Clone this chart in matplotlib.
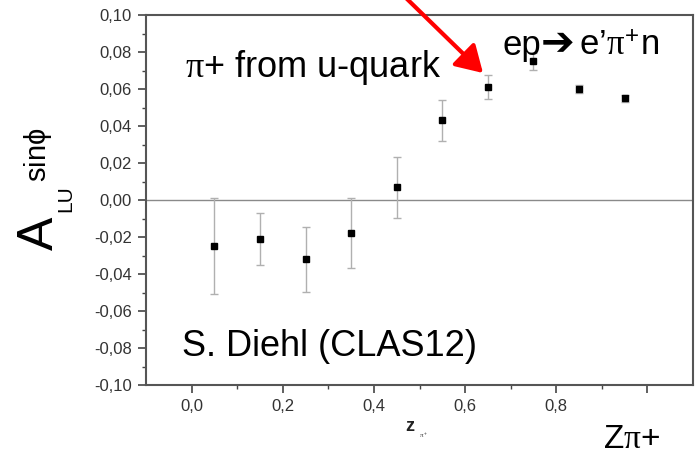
import matplotlib
matplotlib.use("Agg")
import matplotlib.pyplot as plt
from matplotlib.patches import FancyArrowPatch

plt.rcParams['font.family'] = ['Liberation Sans', 'DejaVu Sans']
plt.rcParams['mathtext.fontset'] = 'custom'
plt.rcParams['mathtext.rm'] = 'Liberation Sans'
plt.rcParams['mathtext.it'] = 'Liberation Serif'
plt.rcParams['mathtext.bf'] = 'Liberation Sans:bold'

# data
z_pi = [0.05, 0.15, 0.25, 0.35, 0.45, 0.55, 0.65, 0.75, 0.85, 0.95]
a_lu = [-0.025, -0.021, -0.032, -0.018, 0.007, 0.043, 0.061, 0.075, 0.060, 0.055]
a_err = [0.026, 0.014, 0.0175, 0.019, 0.0165, 0.011, 0.0065, 0.0045, 0.002, 0.002]

xticks = [0.0, 0.2, 0.4, 0.6, 0.8, 1.0]
xlabels = ['0,0', '0,2', '0,4', '0,6', '0,8', '']
yticks = [-0.10, -0.08, -0.06, -0.04, -0.02, 0.0, 0.02, 0.04, 0.06, 0.08, 0.10]
ylabels = ['-0,10', '-0,08', '-0,06', '-0,04', '-0,02', '0,00', '0,02', '0,04', '0,06', '0,08', '0,10']

W, H = 700, 457
fig = plt.figure(figsize=(7, 4.57), dpi=100)
ax = fig.add_axes([146 / W, 1 - 385 / H, (693 - 146) / W, (385 - 15) / H])

ax.axhline(0, color='#8a8a8a', lw=1, zorder=1)
ax.errorbar(z_pi, a_lu, yerr=a_err, fmt='s', color='black', ms=5,
            ecolor='#b0b0b0', elinewidth=1, capsize=3, capthick=1, zorder=3)

ax.set_xlim(-0.1, 1.1)
ax.set_ylim(-0.10, 0.10)
ax.set_xticks(xticks)
ax.set_xticklabels(xlabels)
ax.set_xticks([0.1, 0.3, 0.5, 0.7, 0.9], minor=True)
ax.set_yticks(yticks)
ax.set_yticklabels(ylabels)
ax.set_yticks([-0.09, -0.07, -0.05, -0.03, -0.01, 0.01, 0.03, 0.05, 0.07, 0.09], minor=True)
ax.tick_params(which='major', direction='out', length=6, width=1.2, color='#444444',
               labelsize=12, labelcolor='#333333', pad=4)
ax.tick_params(which='minor', direction='out', length=3, width=1.0, color='#444444')
for s in ax.spines.values():
    s.set_color('#555555')
    s.set_linewidth(1.5)

# y label pieces
fig.text(40 / W, 1 - 233 / H, 'A', rotation=90, fontsize=36, ha='center', va='center')
fig.text(66 / W, 1 - 199 / H, 'LU', rotation=90, fontsize=15, ha='center', va='center')
fig.text(38 / W, 1 - 155 / H, r'sin$\mathregular{\phi}$', rotation=90, fontsize=21,
         ha='center', va='center')

# small axis title and large one
fig.text(410 / W, 1 - 431 / H, r'$\mathbf{z}$', fontsize=13, ha='center', va='baseline', color='#222222')
fig.text(419 / W, 1 - 438 / H, r'$\pi^+$', fontsize=5, ha='left', va='baseline', color='#444444')
fig.text(603 / W, 1 - 448 / H, r'Z$\pi$+', fontsize=24, ha='left', va='baseline')

fig.text(185 / W, 1 - 77 / H, r'$\pi$+ from u-quark', fontsize=26, ha='left', va='baseline')
fig.text(503 / W, 1 - 55 / H, 'ep', fontsize=25, ha='left', va='baseline')
fig.text(541 / W, 1 - 55 / H, '➔', fontsize=29, ha='left', va='baseline',
         family=['DejaVu Sans'])
fig.text(579 / W, 1 - 55 / H, r'e’$\pi^{+}$n', fontsize=25, ha='left', va='baseline')
fig.text(182 / W, 1 - 356 / H, 'S. Diehl (CLAS12)', fontsize=26, ha='left', va='baseline')

arrow = FancyArrowPatch((405 / W, 1 + 3 / H), (483 / W, 1 - 73 / H), transform=fig.transFigure,
                        arrowstyle='-|>,head_length=10,head_width=6', color='#ff0000',
                        lw=3, mutation_scale=1.6, shrinkA=0, shrinkB=0)
fig.add_artist(arrow)

fig.savefig('out.png', dpi=100)
